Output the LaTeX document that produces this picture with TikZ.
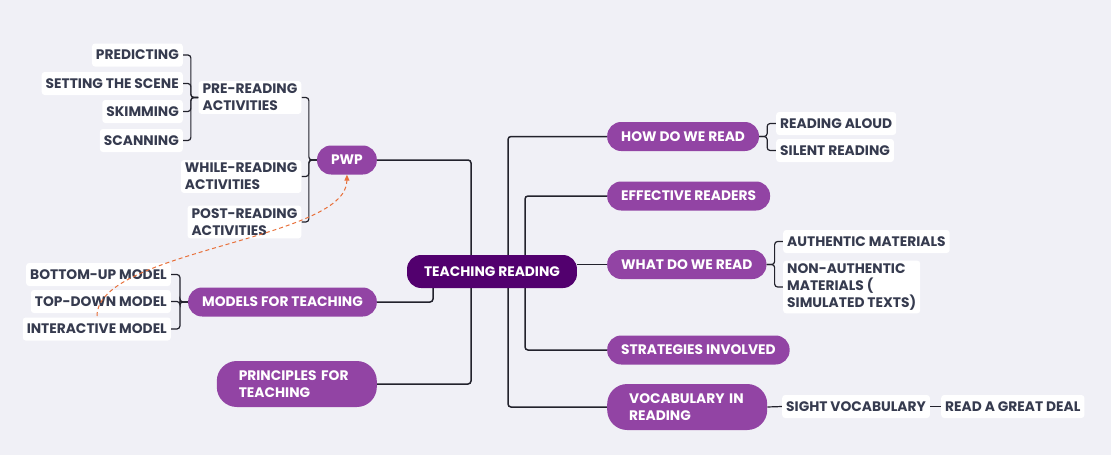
\documentclass[tikz,border=0pt]{standalone}
\usepackage{fontspec}
\setmainfont{Poppins}
\usepackage{xcolor}
\usetikzlibrary{positioning,arrows.meta,backgrounds,calc}
\definecolor{bggray}{RGB}{240,240,246}
\definecolor{rootpurple}{RGB}{82,0,110}
\definecolor{branchpurple}{RGB}{146,68,164}
\definecolor{leafink}{RGB}{54,59,79}
\definecolor{linkink}{RGB}{34,34,44}
\definecolor{dashorange}{RGB}{232,112,58}

\begin{document}
\begin{tikzpicture}[
  x=1pt,y=-1pt,
  font=\fontsize{13.8}{17}\selectfont\bfseries,
  root/.style={fill=rootpurple,text=white,rounded corners=14pt,minimum height=33pt,inner xsep=17pt,inner ysep=0pt},
  branch/.style={fill=branchpurple,text=white,rounded corners=14pt,minimum height=29pt,inner xsep=14pt,inner ysep=0pt},
  branch2/.style={branch,rounded corners=20pt,minimum height=46pt,inner xsep=22pt,text width=116pt,align=left},
  leaf/.style={fill=white,text=leafink,rounded corners=3pt,minimum height=23pt,inner xsep=4pt,inner ysep=3pt,align=left},
  link/.style={draw=linkink,line width=1.5pt,rounded corners=3pt},
  brace/.style={draw=linkink,line width=1.2pt,rounded corners=3pt},
  ar/.style={-{Triangle[length=6pt,width=5pt]},dashorange,line width=1pt,dash pattern=on 4pt off 3pt},
]
\useasboundingbox (0,0) rectangle (1111,455);
% centre
\node[root] (root) at (492,271.5) {TEACHING READING};
% right branches
\node[branch,anchor=west] (how) at (607,136.5) {HOW DO WE READ};
\node[branch,anchor=west] (eff) at (607,196) {EFFECTIVE READERS};
\node[branch,anchor=west] (what) at (607,264.5) {WHAT DO WE READ};
\node[branch,anchor=west] (strat) at (607,350) {STRATEGIES INVOLVED};
\node[branch2,anchor=west] (vocab) at (607,407) {VOCABULARY~IN\\READING};
% left branches
\node[branch,anchor=east] (pwp) at (377,160) {PWP};
\node[branch,anchor=east] (models) at (377,302) {MODELS FOR TEACHING};
\node[branch2,anchor=east] (princ) at (377,384) {PRINCIPLES~FOR\\TEACHING};
% PWP leaves
\node[leaf,anchor=east] (pre) at (301.5,97.5) {PRE-READING\\ACTIVITIES};
\node[leaf,anchor=east] (while) at (301.5,176.5) {WHILE-READING\\ACTIVITIES};
\node[leaf,anchor=east] (post) at (301.5,222) {POST-READING\\ACTIVITIES};
\node[leaf,anchor=east] (predict) at (183,55) {PREDICTING};
\node[leaf,anchor=east] (scene) at (183,83.5) {SETTING THE SCENE};
\node[leaf,anchor=east] (skim) at (183,111.5) {SKIMMING};
\node[leaf,anchor=east] (scan) at (183,140.5) {SCANNING};
% models leaves
\node[leaf,anchor=east] (bottomup) at (171,274.5) {BOTTOM-UP MODEL};
\node[leaf,anchor=east] (topdown) at (171,301.5) {TOP-DOWN MODEL};
\node[leaf,anchor=east] (interact) at (171,329) {INTERACTIVE MODEL};
% right leaves
\node[leaf,anchor=west] (aloud) at (776,123.5) {READING ALOUD};
\node[leaf,anchor=west] (silent) at (776,150.5) {SILENT READING};
\node[leaf,anchor=west] (auth) at (783,241.5) {AUTHENTIC MATERIALS};
\node[leaf,anchor=west] (nonauth) at (783,287) {NON-AUTHENTIC\\MATERIALS (\\SIMULATED TEXTS)};
\node[leaf,anchor=west] (sight) at (782,406.5) {SIGHT VOCABULARY};
\node[leaf,anchor=west] (great) at (941,406.5) {READ A GREAT DEAL};
% connectors behind the boxes
\begin{scope}[on background layer]
\fill[bggray] (0,0) rectangle (1111,455);
\draw[link] ($(root.center)+(16,0)$) |- (how.west);
\draw[link] ($(root.center)+(16,0)$) |- (vocab.west);
\draw[link] ($(root.center)+(33,0)$) |- (eff.west);
\draw[link] ($(root.center)+(33,0)$) |- (strat.west);
\draw[link] (what.west) -- (what.west -| root.east);
\draw[link] ($(root.center)+(-21,0)$) |- (pwp.east);
\draw[link] ($(root.center)+(-21,0)$) |- (princ.east);
\draw[link] ($(root.center)+(-59,0)$) |- (models.east);
% brackets
\foreach \k in {pre,while,post} \draw[brace] (pwp.west) -- ++(-8,0) |- (\k.east);
\foreach \k in {predict,scene,skim,scan} \draw[brace] (pre.west) -- ++(-7.5,0) |- (\k.east);
\foreach \k in {bottomup,topdown,interact} \draw[brace] (models.west) -- ++(-8,0) |- (\k.east);
\foreach \k in {aloud,silent} \draw[brace] (how.east) -- ++(8,0) |- (\k.west);
\foreach \k in {auth,nonauth} \draw[brace] (what.east) -- ++(8,0) |- (\k.west);
\draw[brace] (vocab.east) -- (sight.west);
\draw[brace] (sight.east) -- (great.west);
\end{scope}
% cross link
\draw[ar] (97,316) .. controls (97,250) and (347,240) .. (pwp.south);
\end{tikzpicture}
\end{document}
